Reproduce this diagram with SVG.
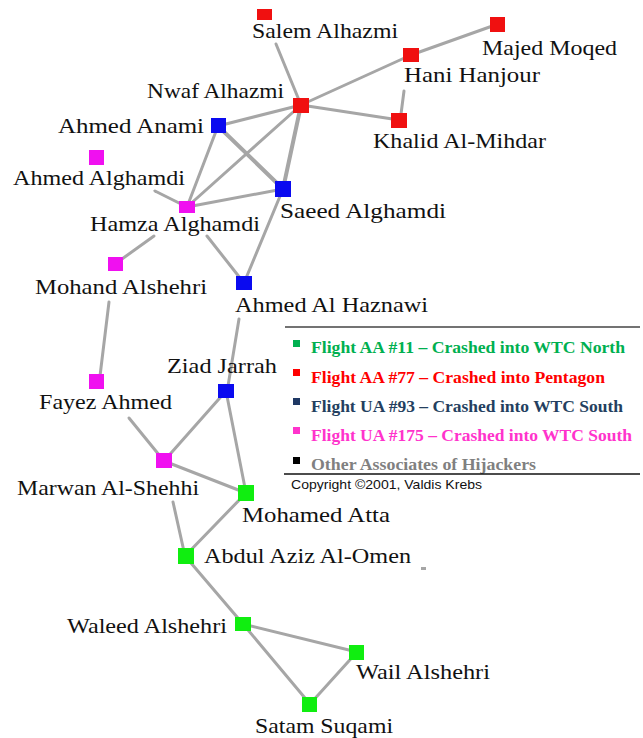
<svg xmlns="http://www.w3.org/2000/svg" width="643" height="738" viewBox="0 0 643 738">
<style>
.edge{stroke:#a6a6a6;stroke-width:3;stroke-linecap:round;fill:none}
.lbl{font-family:"Liberation Serif","Times New Roman",serif;font-size:22px;fill:#111}
.red{fill:#f01010}.blue{fill:#0a0af0}.mag{fill:#f010f0}.grn{fill:#10ee10}
.leg{font-family:"Liberation Serif","Times New Roman",serif;font-size:16px;font-weight:bold}
.copy{font-family:"Liberation Sans",Arial,sans-serif;font-size:13.5px;fill:#111}
</style>
<rect width="643" height="738" fill="#fff"/>
<g id="connectors">
<line class="edge" x1="276" y1="44" x2="301" y2="105"/>
<line class="edge" x1="301" y1="105" x2="411" y2="55"/>
<line class="edge" x1="411" y1="55" x2="498" y2="24"/>
<line class="edge" x1="301" y1="105" x2="399" y2="120"/>
<line class="edge" x1="404" y1="91" x2="401" y2="114"/>
<line class="edge" x1="301" y1="105" x2="218" y2="126"/>
<line class="edge" x1="301" y1="105" x2="187" y2="207"/>
<line class="edge" x1="301" y1="105" x2="283" y2="189" style="stroke-width:4"/>
<line class="edge" x1="218" y1="126" x2="283" y2="189" style="stroke-width:4"/>
<line class="edge" x1="218" y1="126" x2="187" y2="207"/>
<line class="edge" x1="187" y1="207" x2="283" y2="189"/>
<line class="edge" x1="155" y1="191" x2="187" y2="207"/>
<line class="edge" x1="154" y1="236" x2="115" y2="264"/>
<line class="edge" x1="207" y1="236" x2="244" y2="283"/>
<line class="edge" x1="283" y1="189" x2="244" y2="283"/>
<line class="edge" x1="109" y1="302" x2="100" y2="376"/>
<line class="edge" x1="239" y1="319" x2="228" y2="386"/>
<line class="edge" x1="129" y1="418" x2="164" y2="461"/>
<line class="edge" x1="226" y1="391" x2="164" y2="461"/>
<line class="edge" x1="226" y1="391" x2="246" y2="493"/>
<line class="edge" x1="164" y1="461" x2="246" y2="493"/>
<line class="edge" x1="173" y1="502" x2="185" y2="556"/>
<line class="edge" x1="246" y1="493" x2="185" y2="556"/>
<line class="edge" x1="185" y1="556" x2="243" y2="624"/>
<line class="edge" x1="243" y1="624" x2="357" y2="652"/>
<line class="edge" x1="243" y1="624" x2="310" y2="704"/>
<line class="edge" x1="357" y1="652" x2="310" y2="704"/>
</g>
<g id="salem-alhazmi"><rect class="red" x="257" y="9" width="15" height="11"/><text class="lbl" x="252" y="38" textLength="146" lengthAdjust="spacingAndGlyphs">Salem Alhazmi</text></g>
<g id="majed-moqed"><rect class="red" x="490" y="17" width="15" height="15"/><text class="lbl" x="482" y="55" textLength="135" lengthAdjust="spacingAndGlyphs">Majed Moqed</text></g>
<g id="hani-hanjour"><rect class="red" x="403" y="48" width="16" height="14"/><text class="lbl" x="404" y="82" textLength="136" lengthAdjust="spacingAndGlyphs">Hani Hanjour</text></g>
<g id="nwaf-alhazmi"><rect class="red" x="293" y="98" width="16" height="15"/><text class="lbl" x="147" y="98" textLength="137" lengthAdjust="spacingAndGlyphs">Nwaf Alhazmi</text></g>
<g id="khalid-al-mihdar"><rect class="red" x="391" y="113" width="16" height="15"/><text class="lbl" x="373" y="148" textLength="173" lengthAdjust="spacingAndGlyphs">Khalid Al-Mihdar</text></g>
<g id="ahmed-anami"><rect class="blue" x="211" y="118" width="15" height="15"/><text class="lbl" x="58" y="133" textLength="146" lengthAdjust="spacingAndGlyphs">Ahmed Anami</text></g>
<g id="saeed-alghamdi"><rect class="blue" x="275" y="181" width="16" height="16"/><text class="lbl" x="280" y="218" textLength="166" lengthAdjust="spacingAndGlyphs">Saeed Alghamdi</text></g>
<g id="ahmed-alghamdi"><rect class="mag" x="89" y="150" width="15" height="15"/><text class="lbl" x="13" y="185" textLength="172" lengthAdjust="spacingAndGlyphs">Ahmed Alghamdi</text></g>
<g id="hamza-alghamdi"><rect class="mag" x="179" y="201" width="16" height="12"/><text class="lbl" x="90" y="231" textLength="170" lengthAdjust="spacingAndGlyphs">Hamza Alghamdi</text></g>
<g id="mohand-alshehri"><rect class="mag" x="108" y="257" width="15" height="14"/><text class="lbl" x="35" y="294" textLength="172" lengthAdjust="spacingAndGlyphs">Mohand Alshehri</text></g>
<g id="ahmed-al-haznawi"><rect class="blue" x="236" y="276" width="16" height="14"/><text class="lbl" x="235" y="312" textLength="193" lengthAdjust="spacingAndGlyphs">Ahmed Al Haznawi</text></g>
<g id="ziad-jarrah"><rect class="blue" x="218" y="384" width="16" height="14"/><text class="lbl" x="167" y="373" textLength="110" lengthAdjust="spacingAndGlyphs">Ziad Jarrah</text></g>
<g id="fayez-ahmed"><rect class="mag" x="89" y="374" width="15" height="15"/><text class="lbl" x="39" y="409" textLength="133" lengthAdjust="spacingAndGlyphs">Fayez Ahmed</text></g>
<g id="marwan-al-shehhi"><rect class="mag" x="156" y="453" width="16" height="15"/><text class="lbl" x="17" y="495" textLength="182" lengthAdjust="spacingAndGlyphs">Marwan Al-Shehhi</text></g>
<g id="mohamed-atta"><rect class="grn" x="238" y="485" width="16" height="16"/><text class="lbl" x="242" y="522" textLength="148" lengthAdjust="spacingAndGlyphs">Mohamed Atta</text></g>
<g id="abdul-aziz-al-omen"><rect class="grn" x="178" y="548" width="16" height="16"/><text class="lbl" x="204" y="563" textLength="207" lengthAdjust="spacingAndGlyphs">Abdul Aziz Al-Omen</text></g>
<rect x="421" y="567" width="5" height="3" fill="#a6a6a6"/>
<g id="waleed-alshehri"><rect class="grn" x="235" y="617" width="16" height="14"/><text class="lbl" x="67" y="633" textLength="160" lengthAdjust="spacingAndGlyphs">Waleed Alshehri</text></g>
<g id="wail-alshehri"><rect class="grn" x="349" y="645" width="15" height="15"/><text class="lbl" x="356" y="679" textLength="134" lengthAdjust="spacingAndGlyphs">Wail Alshehri</text></g>
<g id="satam-suqami"><rect class="grn" x="302" y="697" width="15" height="15"/><text class="lbl" x="255" y="733" textLength="138" lengthAdjust="spacingAndGlyphs">Satam Suqami</text></g>
<g id="legend">
<line x1="285" y1="327" x2="640" y2="327" stroke="#444" stroke-width="1.5"/>
<rect x="293" y="340" width="7" height="7" fill="#00b050"/>
<text class="leg" x="311" y="353" fill="#00b050" textLength="314" lengthAdjust="spacingAndGlyphs">Flight AA #11 – Crashed into WTC North</text>
<rect x="293" y="369" width="7" height="7" fill="#ff0000"/>
<text class="leg" x="311" y="383" fill="#ff0000" textLength="294" lengthAdjust="spacingAndGlyphs">Flight AA #77 – Crashed into Pentagon</text>
<rect x="293" y="398" width="7" height="7" fill="#1f3864"/>
<text class="leg" x="311" y="412" fill="#243f60" textLength="312" lengthAdjust="spacingAndGlyphs">Flight UA #93 – Crashed into WTC South</text>
<rect x="293" y="427" width="7" height="7" fill="#ff33cc"/>
<text class="leg" x="311" y="441" fill="#ff33cc" textLength="321" lengthAdjust="spacingAndGlyphs">Flight UA #175 – Crashed into WTC South</text>
<rect x="293" y="457" width="7" height="7" fill="#000"/>
<text class="leg" x="311" y="470" fill="#808080" textLength="225" lengthAdjust="spacingAndGlyphs">Other Associates of Hijackers</text>
<line x1="284" y1="474" x2="640" y2="474" stroke="#111" stroke-width="1.5"/>
<text class="copy" x="291" y="489" textLength="191" lengthAdjust="spacingAndGlyphs">Copyright ©2001, Valdis Krebs</text>
</g>
</svg>
